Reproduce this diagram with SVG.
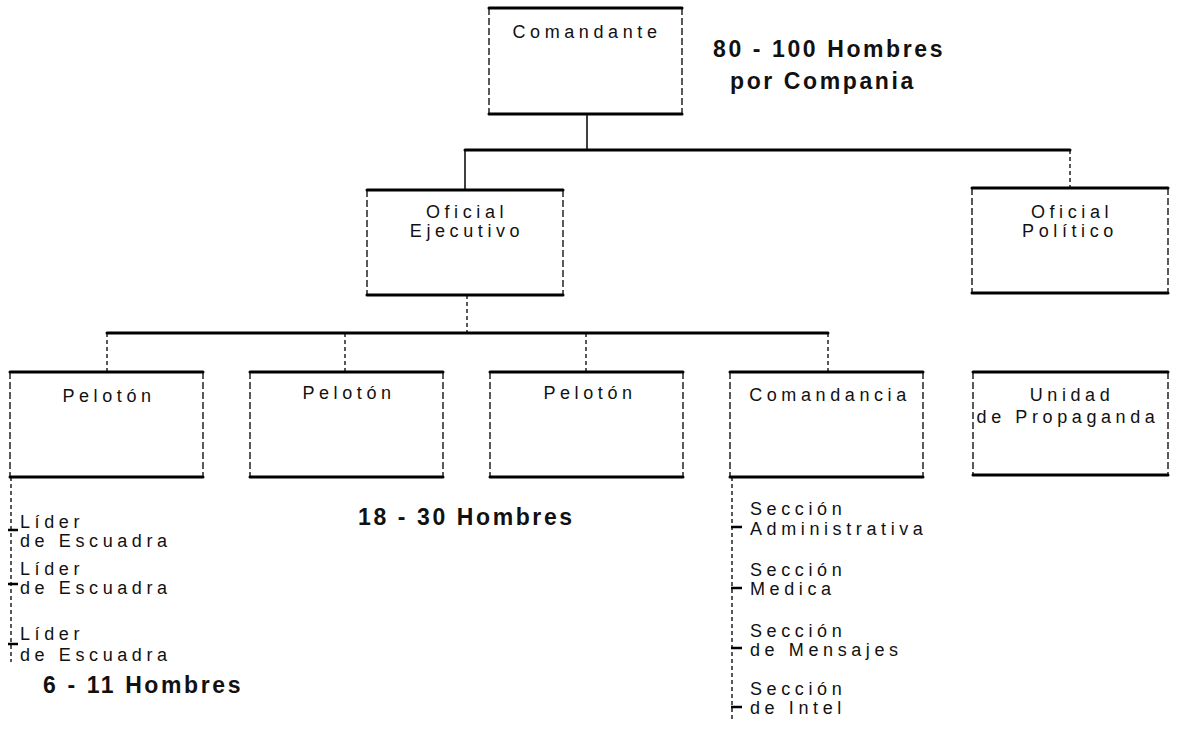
<svg xmlns="http://www.w3.org/2000/svg" width="1177" height="729" viewBox="0 0 1177 729">
<style>
.tb{stroke:#000;stroke-width:3;fill:none;stroke-linecap:round}
.sd{stroke:#000;stroke-width:1.3;stroke-dasharray:7 3;fill:none}
.ln{stroke:#000;stroke-width:3;fill:none;stroke-linecap:round}
.th{stroke:#000;stroke-width:1.5;fill:none}
.dt{stroke:#000;stroke-width:1.3;stroke-dasharray:4 3;fill:none}
.tk{stroke:#000;stroke-width:2.5;fill:none}
.t{font-family:"Liberation Sans",Arial,Helvetica,sans-serif;font-size:18px;letter-spacing:4.6px;fill:#111}
.c{text-anchor:middle}
.b{font-weight:bold;font-size:23px;letter-spacing:2.6px}
</style>
<rect width="1177" height="729" fill="#fff"/>
<g id="connectors">
<line class="th" x1="587" y1="114" x2="587" y2="150"/>
<line class="ln" x1="465" y1="150" x2="1070" y2="150"/>
<line class="th" x1="465" y1="150" x2="465" y2="190"/>
<line class="dt" x1="1070" y1="150" x2="1070" y2="188"/>
<line class="dt" x1="467" y1="295" x2="467" y2="333"/>
<line class="ln" x1="107" y1="333" x2="828" y2="333"/>
<line class="dt" x1="107" y1="333" x2="107" y2="372"/>
<line class="dt" x1="345" y1="333" x2="345" y2="372"/>
<line class="dt" x1="586" y1="333" x2="586" y2="372"/>
<line class="dt" x1="828" y1="333" x2="828" y2="372"/>
<line class="dt" x1="11" y1="477" x2="11" y2="662"/>
<line class="tk" x1="8" y1="530" x2="18" y2="530"/>
<line class="tk" x1="8" y1="584" x2="18" y2="584"/>
<line class="tk" x1="8" y1="644" x2="18" y2="644"/>
<line class="dt" x1="732" y1="477" x2="732" y2="720"/>
<line class="tk" x1="731" y1="527" x2="742" y2="527"/>
<line class="tk" x1="731" y1="588" x2="742" y2="588"/>
<line class="tk" x1="731" y1="648" x2="742" y2="648"/>
<line class="tk" x1="731" y1="707" x2="742" y2="707"/>
</g>
<g id="comandante">
<line class="tb" x1="489" y1="8" x2="682" y2="8"/>
<line class="tb" x1="489" y1="114" x2="682" y2="114"/>
<line class="sd" x1="489" y1="8" x2="489" y2="114"/>
<line class="sd" x1="682" y1="8" x2="682" y2="114"/>
<text class="t c" x="587" y="38">Comandante</text>
</g>
<g id="label-compania">
<text class="t b" x="713" y="57">80 - 100 Hombres</text>
<text class="t b" x="730" y="89">por Compania</text>
</g>
<g id="oficial-ejecutivo">
<line class="tb" x1="367" y1="190" x2="563" y2="190"/>
<line class="tb" x1="367" y1="295" x2="563" y2="295"/>
<line class="sd" x1="367" y1="190" x2="367" y2="295"/>
<line class="sd" x1="563" y1="190" x2="563" y2="295"/>
<text class="t c" x="467" y="218">Oficial</text>
<text class="t c" x="467" y="237">Ejecutivo</text>
</g>
<g id="oficial-politico">
<line class="tb" x1="972" y1="188" x2="1168" y2="188"/>
<line class="tb" x1="972" y1="293" x2="1168" y2="293"/>
<line class="sd" x1="972" y1="188" x2="972" y2="293"/>
<line class="sd" x1="1168" y1="188" x2="1168" y2="293"/>
<text class="t c" x="1072" y="218">Oficial</text>
<text class="t c" x="1070" y="237">Político</text>
</g>
<g id="peloton-1">
<line class="tb" x1="10" y1="372" x2="203" y2="372"/>
<line class="tb" x1="10" y1="477" x2="203" y2="477"/>
<line class="sd" x1="10" y1="372" x2="10" y2="477"/>
<line class="sd" x1="203" y1="372" x2="203" y2="477"/>
<text class="t c" x="109" y="402">Pelotón</text>
</g>
<g id="peloton-2">
<line class="tb" x1="250" y1="372" x2="443" y2="372"/>
<line class="tb" x1="250" y1="477" x2="443" y2="477"/>
<line class="sd" x1="250" y1="372" x2="250" y2="477"/>
<line class="sd" x1="443" y1="372" x2="443" y2="477"/>
<text class="t c" x="349" y="399">Pelotón</text>
</g>
<g id="peloton-3">
<line class="tb" x1="490" y1="372" x2="683" y2="372"/>
<line class="tb" x1="490" y1="477" x2="683" y2="477"/>
<line class="sd" x1="490" y1="372" x2="490" y2="477"/>
<line class="sd" x1="683" y1="372" x2="683" y2="477"/>
<text class="t c" x="590" y="399">Pelotón</text>
</g>
<g id="comandancia">
<line class="tb" x1="730" y1="372" x2="923" y2="372"/>
<line class="tb" x1="730" y1="477" x2="923" y2="477"/>
<line class="sd" x1="730" y1="372" x2="730" y2="477"/>
<line class="sd" x1="923" y1="372" x2="923" y2="477"/>
<text class="t c" x="830" y="401">Comandancia</text>
</g>
<g id="unidad-propaganda">
<line class="tb" x1="973" y1="372" x2="1168" y2="372"/>
<line class="tb" x1="973" y1="475" x2="1168" y2="475"/>
<line class="sd" x1="973" y1="372" x2="973" y2="475"/>
<line class="sd" x1="1168" y1="372" x2="1168" y2="475"/>
<text class="t c" x="1072" y="401">Unidad</text>
<text class="t c" x="1068" y="423">de Propaganda</text>
</g>
<g id="lideres">
<text class="t" x="20" y="528">Líder</text>
<text class="t" x="20" y="547">de Escuadra</text>
<text class="t" x="20" y="575">Líder</text>
<text class="t" x="20" y="594">de Escuadra</text>
<text class="t" x="20" y="640">Líder</text>
<text class="t" x="20" y="661">de Escuadra</text>
<text class="t b" x="43" y="693">6 - 11 Hombres</text>
</g>
<g id="label-peloton">
<text class="t b" x="358" y="525">18 - 30 Hombres</text>
</g>
<g id="secciones">
<text class="t" x="750" y="515">Sección</text>
<text class="t" x="750" y="535">Administrativa</text>
<text class="t" x="750" y="576">Sección</text>
<text class="t" x="750" y="595">Medica</text>
<text class="t" x="750" y="637">Sección</text>
<text class="t" x="750" y="656">de Mensajes</text>
<text class="t" x="750" y="695">Sección</text>
<text class="t" x="750" y="714">de Intel</text>
</g>
</svg>
